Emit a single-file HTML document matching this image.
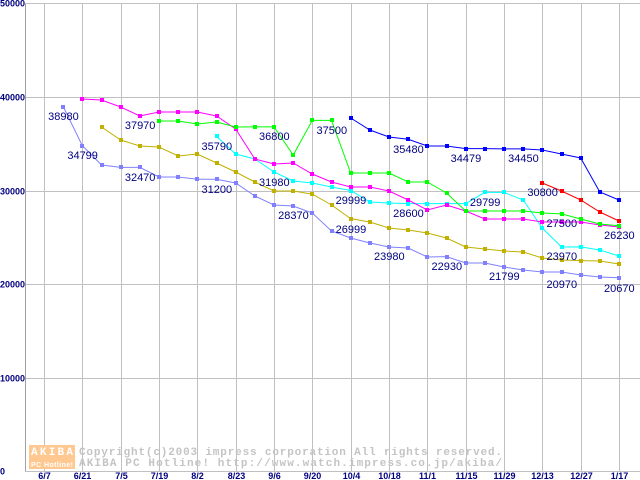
<!DOCTYPE html>
<html><head><meta charset="utf-8"><style>
html,body{margin:0;padding:0;background:#fff;}
svg{display:block;}
</style></head><body>
<svg id="chart" width="640" height="480" xmlns="http://www.w3.org/2000/svg"></svg>
<script>
const categories = ["6/7","6/21","7/5","7/19","8/2","8/23","9/6","9/20","10/4","10/18","11/1","11/15","11/29","12/13","12/27","1/17"];
const yTicks = [0,10000,20000,30000,40000,50000];
const seriesPeriwinkle = [null,38980,34799,32730,32470,32470,31440,31440,31200,31200,30800,29410,28450,28340,27590,25670,24920,24380,23960,23850,22890,22930,22250,22250,21820,21500,21280,21280,20960,20750,20670];
const seriesOlive = [null,null,null,36790,35400,34760,34650,33690,33900,32940,31980,30910,29950,29950,29620,28450,26999,26630,25990,25780,25450,24920,23960,23740,23530,23420,22780,22570,22500,22460,22140];
const seriesCyan = [null,null,null,null,null,null,null,null,null,35790,33900,33370,31980,31020,30800,30370,29999,28770,28660,28600,28600,28600,28600,29799,29799,28980,25990,23960,23970,23640,22990];
const seriesMagenta = [null,null,39790,39680,38930,37970,38400,38400,38400,37970,36580,33370,32830,32940,31760,30910,30370,30370,29950,28980,27910,28450,27810,26950,26950,26950,26630,26630,26630,26310,26100];
const seriesGreen = [null,null,null,null,null,null,37430,37430,37110,37330,36790,36800,36800,33800,37500,37500,31870,31870,31870,30910,30910,29730,27810,27810,27810,27810,27590,27500,26950,26420,26230];
const seriesBlue = [null,null,null,null,null,null,null,null,null,null,null,null,null,null,null,null,37750,36470,35720,35480,34760,34760,34479,34479,34450,34450,34330,33900,33480,29840,28980];
const seriesRed = [null,null,null,null,null,null,null,null,null,null,null,null,null,null,null,null,null,null,null,null,null,null,null,null,null,null,30800,29950,28980,27700,26740];
const labelTexts = ["38980","34799","37970","32470","35790","31200","36800","31980","37500","28370","29999","26999","23980","35480","34479","34450","28600","29799","30800","27500","26230","23970","22930","21799","20970","20670"];
const labelIdx = [1,2,5,5,9,9,12,12,15,13,16,16,18,19,22,25,19,23,26,27,30,27,21,24,27,30];
const labelVal = [37970,33800,37010,31440,34760,30160,35830,30920,36470,27380,28980,25880,22990,34440,33480,33480,27590,28770,29840,26520,25240,22990,21920,20860,20000,19570];

const svg = document.getElementById('chart');
const NS = 'http://www.w3.org/2000/svg';
const X0 = 44, STEP = 19.167, Y0 = 471, YS = 467.5/50000;
function xPos(i){ return X0 + STEP*i; }
function yPos(v){ return Y0 - v*YS; }
function mk(tag, attrs, parent){ const e=document.createElementNS(NS,tag); for(const k in attrs) e.setAttribute(k,attrs[k]); (parent||svg).appendChild(e); return e; }

const grid = mk('g',{});


yTicks.forEach(t=>{
  const y=Math.round(yPos(t))+0.5;
  const l=mk('line',{x1:25,x2:640,y1:y,y2:y,stroke:'#c0c0c0','stroke-width':1},grid);
  
  
  const tx=mk('text',{x:0,y:y+3,'font-family':'Liberation Sans, sans-serif','font-size':9,'font-weight':'bold',fill:'#000080'});
  tx.textContent=String(t);
  
  
});
categories.forEach((c,k)=>{
  const x=Math.round(xPos(k*2))+0.5;
  const l=mk('line',{x1:x,x2:x,y1:4,y2:471,stroke:'#c0c0c0','stroke-width':1},grid);
  
  
  const tx=mk('text',{x:x,y:479,'text-anchor':'middle','font-family':'Liberation Sans, sans-serif','font-size':9,'font-weight':'bold',fill:'#000080'});
  tx.textContent=c;
  
  
});
const ax=mk('line',{x1:25.5,x2:25.5,y1:4,y2:471,stroke:'#a0a0a0','stroke-width':1});



const wm=mk('g',{});


mk('rect',{x:29,y:445,width:46,height:12,fill:'#ffc890'},wm);
mk('rect',{x:29,y:457,width:46,height:12,fill:'#ffc890'},wm);
const w1=mk('text',{x:31,y:455,'font-family':'Liberation Mono, monospace','font-size':11,'font-weight':'bold',fill:'#fff',textLength:42},wm); w1.textContent='AKIBA';
const w2=mk('text',{x:31,y:467,'font-family':'Liberation Sans, sans-serif','font-size':7,'font-weight':'bold',fill:'#fff',textLength:42},wm); w2.textContent='PC Hotline!';
const w3=mk('text',{x:79,y:455,'font-family':'Liberation Mono, monospace','font-size':11,'font-weight':'bold',fill:'#c4c4c4',textLength:423},wm); w3.textContent='Copyright(c)2003 impress corporation All rights reserved.';
const w4=mk('text',{x:79,y:466,'font-family':'Liberation Mono, monospace','font-size':11,'font-weight':'bold',fill:'#c4c4c4',textLength:423},wm); w4.textContent='AKIBA PC Hotline!  http://www.watch.impress.co.jp/akiba/';

const allSeries=[[seriesPeriwinkle,'#8080ff','series-periwinkle'],[seriesOlive,'#c0b000','series-olive'],[seriesCyan,'#00ffff','series-cyan'],[seriesMagenta,'#ff00ff','series-magenta'],[seriesGreen,'#00ff00','series-green'],[seriesBlue,'#0000ff','series-blue'],[seriesRed,'#ff0000','series-red']];
allSeries.forEach(([data,color,name])=>{
  const g=mk('g',{});
  
  
  let pts=[];
  data.forEach((v,i)=>{ if(v!=null) pts.push([xPos(i),yPos(v)]); });
  const pl=mk('polyline',{points:pts.map(p=>p[0].toFixed(1)+','+p[1].toFixed(1)).join(' '),fill:'none',stroke:color,'stroke-width':1},g);
  
  
  pts.forEach(p=>{
    const r=mk('rect',{x:Math.round(p[0])-2,y:Math.round(p[1])-2,width:4,height:4,fill:color},g);
    
    
  });
});

labelTexts.forEach((t,k)=>{
  const tx=mk('text',{x:xPos(labelIdx[k])-15,y:yPos(labelVal[k])+4,'font-family':'Liberation Sans, sans-serif','font-size':11,fill:'#000080'});
  tx.textContent=t;
  
  
});
</script>
</body></html>
